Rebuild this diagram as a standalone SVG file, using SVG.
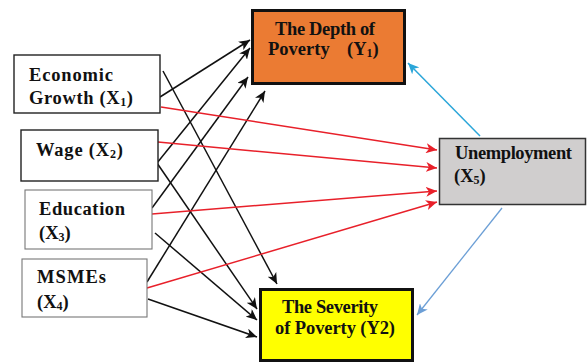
<svg xmlns="http://www.w3.org/2000/svg" width="587" height="363" viewBox="0 0 587 363">
<style>
.t{font-family:"Liberation Serif","Times New Roman",serif;font-weight:bold;font-size:18.5px;fill:#111}
.s{font-size:12px}
.k{stroke:#111;stroke-width:1.5;fill:none}
.r{stroke:#E8202A;stroke-width:1.5;fill:none}
.b1{stroke:#2BA6D9;stroke-width:1.5;fill:none}
.b2{stroke:#6C9FD6;stroke-width:1.3;fill:none}
</style>
<defs>
<marker id="ak" markerUnits="userSpaceOnUse" markerWidth="12" markerHeight="10" refX="11" refY="5" orient="auto"><path d="M0,0 L11,5 L0,10 L3,5 Z" fill="#111"/></marker>
<marker id="ar" markerUnits="userSpaceOnUse" markerWidth="12" markerHeight="10" refX="11" refY="5" orient="auto"><path d="M0,0 L11,5 L0,10 L3,5 Z" fill="#E8202A"/></marker>
<marker id="ab1" markerUnits="userSpaceOnUse" markerWidth="12" markerHeight="10" refX="11" refY="5" orient="auto"><path d="M0,0 L11,5 L0,10 L3,5 Z" fill="#2BA6D9"/></marker>
<marker id="ab2" markerUnits="userSpaceOnUse" markerWidth="12" markerHeight="10" refX="11" refY="5" orient="auto"><path d="M0,0 L11,5 L0,10 L3,5 Z" fill="#6C9FD6"/></marker>
</defs>
<rect width="587" height="363" fill="#fff"/>
<g id="connectors">
<line class="k" x1="160" y1="97" x2="250" y2="40" marker-end="url(#ak)"/>
<line class="k" x1="157" y1="163" x2="250" y2="48" marker-end="url(#ak)"/>
<line class="k" x1="152" y1="208" x2="248" y2="77" marker-end="url(#ak)"/>
<line class="k" x1="147" y1="282" x2="265" y2="91" marker-end="url(#ak)"/>
<line class="k" x1="163" y1="71" x2="277" y2="284" marker-end="url(#ak)"/>
<line class="k" x1="157" y1="163" x2="257" y2="309" marker-end="url(#ak)"/>
<line class="k" x1="155" y1="233" x2="257" y2="320" marker-end="url(#ak)"/>
<line class="k" x1="148" y1="299" x2="257" y2="337" marker-end="url(#ak)"/>
<line class="r" x1="161" y1="107" x2="437" y2="150" marker-end="url(#ar)"/>
<line class="r" x1="158" y1="142" x2="437" y2="168" marker-end="url(#ar)"/>
<line class="r" x1="152" y1="214" x2="437" y2="191" marker-end="url(#ar)"/>
<line class="r" x1="147" y1="288" x2="437" y2="202" marker-end="url(#ar)"/>
<line class="b1" x1="480" y1="136" x2="408" y2="63" marker-end="url(#ab1)"/>
<line class="b2" x1="502" y1="208" x2="417" y2="315" marker-end="url(#ab2)"/>
</g>
<g id="x1">
<rect x="14" y="55" width="146" height="58" fill="#fff" stroke="#222" stroke-width="1.4"/>
<text class="t" x="29" y="81" textLength="84" lengthAdjust="spacing">Economic</text>
<text class="t" x="29" y="104" textLength="104" lengthAdjust="spacing">Growth (X<tspan class="s" dy="2">1</tspan><tspan dy="-2">)</tspan></text>
</g>
<g id="x2">
<rect x="21" y="130" width="137" height="51" fill="#fff" stroke="#222" stroke-width="1.4"/>
<text class="t" x="36" y="156" textLength="87" lengthAdjust="spacing">Wage (X<tspan class="s" dy="2">2</tspan><tspan dy="-2">)</tspan></text>
</g>
<g id="x3">
<rect x="25" y="190" width="127" height="59" fill="#fff" stroke="#777" stroke-width="1.1"/>
<text class="t" x="39" y="215" textLength="86" lengthAdjust="spacing">Education</text>
<text class="t" x="39" y="239">(X<tspan class="s" dy="2">3</tspan><tspan dy="-2">)</tspan></text>
</g>
<g id="x4">
<rect x="22" y="259" width="125" height="58" fill="#fff" stroke="#777" stroke-width="1.1"/>
<text class="t" x="37" y="283" textLength="69" lengthAdjust="spacing">MSMEs</text>
<text class="t" x="37" y="308">(X<tspan class="s" dy="2">4</tspan><tspan dy="-2">)</tspan></text>
</g>
<g id="y1">
<rect x="252.5" y="10.5" width="152" height="73" fill="#EB7B33" stroke="#111" stroke-width="3"/>
<text class="t" x="275" y="35" textLength="100" lengthAdjust="spacing">The Depth of</text>
<text class="t" x="268" y="55">Poverty<tspan x="347">(Y</tspan><tspan class="s" dy="2">1</tspan><tspan dy="-2">)</tspan></text>
</g>
<g id="x5">
<rect x="439.5" y="138.5" width="146" height="66" fill="#D0CECE" stroke="#333" stroke-width="1.5"/>
<text class="t" x="455" y="159" textLength="117" lengthAdjust="spacing">Unemployment</text>
<text class="t" x="454" y="182">(X<tspan class="s" dy="2">5</tspan><tspan dy="-2">)</tspan></text>
</g>
<g id="y2">
<rect x="260.5" y="289.5" width="152" height="71" fill="#FFFF00" stroke="#111" stroke-width="3"/>
<text class="t" x="282" y="313" textLength="96" lengthAdjust="spacing">The Severity</text>
<text class="t" x="275" y="334" textLength="120" lengthAdjust="spacing">of Poverty (Y2)</text>
</g>
</svg>
